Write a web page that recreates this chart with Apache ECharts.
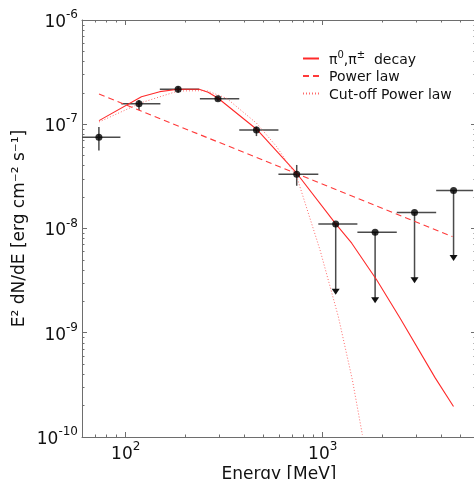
<!DOCTYPE html>
<html>
<head>
<meta charset="utf-8">
<script src="https://cdn.jsdelivr.net/npm/echarts@6/dist/echarts.min.js"></script>
<style>
html,body{margin:0;padding:0;background:#fff;}
#chart{width:474px;height:479px;}
</style>
</head>
<body>
<div id="chart"></div>
<script>
// ---- Data ----
// Flux points with error bars (MeV, erg cm^-2 s^-1)
const energy = [73.1, 116.8, 184.5, 294, 461, 738];
const flux = [7.5e-8, 1.57e-7, 2.17e-7, 1.76e-7, 8.8e-8, 3.31e-8];
const eLow = [57, 95, 149, 238, 377, 596];
const eHigh = [94, 150, 236, 377, 596, 950];
const fLow = [5.6e-8, 1.37e-7, 2.01e-7, 1.68e-7, 7.7e-8, 2.57e-8];
const fHigh = [9.4e-8, 1.71e-7, 2.30e-7, 1.84e-7, 9.5e-8, 4.07e-8];

// Upper limits
const ulEnergy = [1164, 1845, 2925, 4616];
const ulFlux = [1.107e-8, 9.2e-9, 1.42e-8, 2.31e-8];
const ulELow = [950, 1500, 2377, 3767];
const ulEHigh = [1500, 2377, 3767, 5800];
const ulArrowEnd = [2.31e-9, 1.92e-9, 2.99e-9, 4.89e-9];

// Model curves
const pionE = [73.2, 120.2, 148.9, 184.5, 235.9, 262, 294.6, 461.8, 737.8, 1164.6, 1404, 1881, 2472, 3724, 4613];
const pionF = [1.083e-7, 1.839e-7, 2.054e-7, 2.166e-7, 2.166e-7, 2.026e-7, 1.776e-7, 8.96e-8, 3.39e-8, 1.106e-8, 7.23e-9, 3.21e-9, 1.38e-9, 3.69e-10, 1.96e-10];

const plE = [73.2, 4560];
const plF = [1.952e-7, 8.36e-9];

const cutE = [73.2, 120.2, 184.5, 257.2, 325, 461.8, 583.6, 737.8, 969, 1200, 1414, 1590];
const cutF = [1.051e-7, 1.611e-7, 2.086e-7, 2.1e-7, 1.776e-7, 1.022e-7, 6.1e-8, 3.15e-8, 6.23e-9, 1.43e-9, 3.54e-10, 1.05e-10];

// Axis ticks
const xMajor = [100, 1000];
const xMinor = [70, 80, 90, 200, 300, 400, 500, 600, 700, 800, 900, 2000, 3000, 4000, 5000];
const yMajor = [1e-10, 1e-9, 1e-8, 1e-7, 1e-6];
const yMinor = [];
[-10, -9, -8, -7].forEach(function (d) {
  for (let k = 2; k <= 9; k++) yMinor.push(k * Math.pow(10, d));
});

const seriesNames = ['pi0', 'Power law', 'Cut-off Power law'];

// ---- Build chart ----
const chart = echarts.init(document.getElementById('chart'), null, {renderer: 'canvas'});

const FONT = 'DejaVu Sans';
const AXIS_COLOR = '#6e6e6e';

function zip(a, b) { return a.map(function (v, i) { return [v, b[i]]; }); }

function powLabel(v) {
  const e = Math.round(Math.log10(v));
  return '{b|10}{s|' + e + '}';
}
const labelRich = {
  b: {fontSize: 17, fontFamily: FONT, color: '#111', lineHeight: 22, verticalAlign: 'bottom'},
  s: {fontSize: 12, fontFamily: FONT, color: '#111', verticalAlign: 'top', lineHeight: 22}
};

const gridRect = {left: 82, top: 20, right: -2, bottom: 42, outerBoundsMode: 'none', containLabel: false};

function xAx(gridIndex, pos, ticks, len, showLabel, showLine, extra) {
  return Object.assign({
    type: 'log', logBase: 10, min: 60, max: 6000, gridIndex: gridIndex, position: pos,
    axisLine: {show: showLine, lineStyle: {color: AXIS_COLOR, width: 1}},
    axisTick: {show: true, inside: true, length: len, customValues: ticks, lineStyle: {color: AXIS_COLOR, width: 1}},
    axisLabel: showLabel ? {show: true, customValues: xMajor, formatter: powLabel, rich: labelRich, margin: 4} : {show: false},
    splitLine: {show: false}, minorTick: {show: false}
  }, extra || {});
}
function yAx(gridIndex, pos, ticks, len, showLabel, showLine, extra) {
  return Object.assign({
    type: 'log', logBase: 10, min: 1e-10, max: 1e-6, gridIndex: gridIndex, position: pos,
    axisLine: {show: showLine, lineStyle: {color: AXIS_COLOR, width: 1}},
    axisTick: {show: true, inside: true, length: len, customValues: ticks, lineStyle: {color: AXIS_COLOR, width: 1}},
    axisLabel: showLabel ? {show: true, customValues: yMajor, formatter: powLabel, rich: labelRich, margin: 4} : {show: false},
    splitLine: {show: false}, minorTick: {show: false}
  }, extra || {});
}

const pointData = energy.map(function (e, i) { return [e, flux[i], eLow[i], eHigh[i], fLow[i], fHigh[i]]; });
const ulData = ulEnergy.map(function (e, i) { return [e, ulFlux[i], ulELow[i], ulEHigh[i], ulArrowEnd[i]]; });

const barStyle = {stroke: '#4a4a4a', lineWidth: 1.5};

const option = {
  backgroundColor: '#ffffff',
  animation: false,
  grid: [Object.assign({}, gridRect), Object.assign({}, gridRect)],
  xAxis: [
    xAx(0, 'bottom', xMajor, 5, true, true, {
      name: 'Energy [MeV]', nameLocation: 'middle', nameGap: 29, nameMoveOverlap: false,
      nameTextStyle: {fontSize: 17, fontFamily: FONT, color: '#111'}
    }),
    xAx(0, 'top', xMajor, 5, false, true),
    xAx(1, 'bottom', xMinor, 2.5, false, false),
    xAx(1, 'top', xMinor, 2.5, false, false)
  ],
  yAxis: [
    yAx(0, 'left', yMajor, 5, true, true, {
      name: 'E² dN/dE [erg cm⁻² s⁻¹]', nameLocation: 'middle', nameGap: 54, nameMoveOverlap: false,
      nameTextStyle: {fontSize: 17, fontFamily: FONT, color: '#111'}
    }),
    yAx(0, 'right', yMajor, 5, false, true),
    yAx(1, 'left', yMinor, 2.5, false, false),
    yAx(1, 'right', yMinor, 2.5, false, false)
  ],
  legend: {
    data: seriesNames,
    orient: 'vertical',
    left: 297, top: 45,
    itemWidth: 16, itemHeight: 10, itemGap: 3.5,
    itemStyle: {opacity: 0},
    formatter: function (name) {
      if (name === 'pi0') return '{f|π}{p|0}{t|,π}{p|±}{t|  decay}';
      return '{f|' + name + '}';
    },
    textStyle: {
      fontFamily: FONT, fontSize: 14, color: '#111',
      rich: {
        f: {fontSize: 14, fontFamily: FONT, color: '#111', lineHeight: 17, verticalAlign: 'bottom', padding: [0, 0, 0, 5]},
        t: {fontSize: 14, fontFamily: FONT, color: '#111', lineHeight: 17, verticalAlign: 'bottom'},
        p: {fontSize: 10, fontFamily: FONT, color: '#111', lineHeight: 17, verticalAlign: 'top'}
      }
    },
    selectedMode: false
  },
  series: [
    {
      name: 'errorbars', type: 'custom', xAxisIndex: 0, yAxisIndex: 0, clip: true, z: 2,
      data: pointData,
      renderItem: function (params, api) {
        const l = api.coord([api.value(2), api.value(1)]);
        const r = api.coord([api.value(3), api.value(1)]);
        const lo = api.coord([api.value(0), api.value(4)]);
        const hi = api.coord([api.value(0), api.value(5)]);
        return {type: 'group', children: [
          {type: 'line', shape: {x1: l[0], y1: l[1], x2: r[0], y2: r[1]}, style: barStyle},
          {type: 'line', shape: {x1: lo[0], y1: lo[1], x2: hi[0], y2: hi[1]}, style: barStyle}
        ]};
      }
    },
    {
      name: 'upperlimits', type: 'custom', xAxisIndex: 0, yAxisIndex: 0, clip: true, z: 2,
      data: ulData,
      renderItem: function (params, api) {
        const c = api.coord([api.value(0), api.value(1)]);
        const l = api.coord([api.value(2), api.value(1)]);
        const r = api.coord([api.value(3), api.value(1)]);
        const tip = api.coord([api.value(0), api.value(4)]);
        const h = 6, w = 4;
        return {type: 'group', children: [
          {type: 'line', shape: {x1: l[0], y1: l[1], x2: r[0], y2: r[1]}, style: barStyle},
          {type: 'line', shape: {x1: c[0], y1: c[1], x2: tip[0], y2: tip[1] - h + 1}, style: barStyle},
          {type: 'polygon', shape: {points: [[tip[0] - w, tip[1] - h], [tip[0] + w, tip[1] - h], [tip[0], tip[1]]]}, style: {fill: '#111'}}
        ]};
      }
    },
    {
      name: 'pi0', type: 'line', xAxisIndex: 0, yAxisIndex: 0, z: 3,
      data: zip(pionE, pionF), symbol: 'none', showSymbol: false,
      lineStyle: {color: '#ff2a2a', width: 1.1, type: 'solid'},
      itemStyle: {color: '#ff2a2a'}
    },
    {
      name: 'Power law', type: 'line', xAxisIndex: 0, yAxisIndex: 0, z: 3,
      data: zip(plE, plF), symbol: 'none', showSymbol: false,
      lineStyle: {color: '#ff3a3a', width: 1.1, type: [6, 4]},
      itemStyle: {color: '#ff3a3a'}
    },
    {
      name: 'Cut-off Power law', type: 'line', xAxisIndex: 0, yAxisIndex: 0, z: 3,
      data: zip(cutE, cutF), symbol: 'none', showSymbol: false,
      lineStyle: {color: '#ff6a6a', width: 1, type: [1, 2]},
      itemStyle: {color: '#ff6a6a'}
    },
    {
      name: 'points', type: 'scatter', xAxisIndex: 0, yAxisIndex: 0, z: 5,
      data: zip(energy.concat(ulEnergy), flux.concat(ulFlux)),
      symbol: 'circle', symbolSize: 7,
      itemStyle: {color: '#000'}
    }
  ]
};

chart.setOption(option);
</script>
</body>
</html>
